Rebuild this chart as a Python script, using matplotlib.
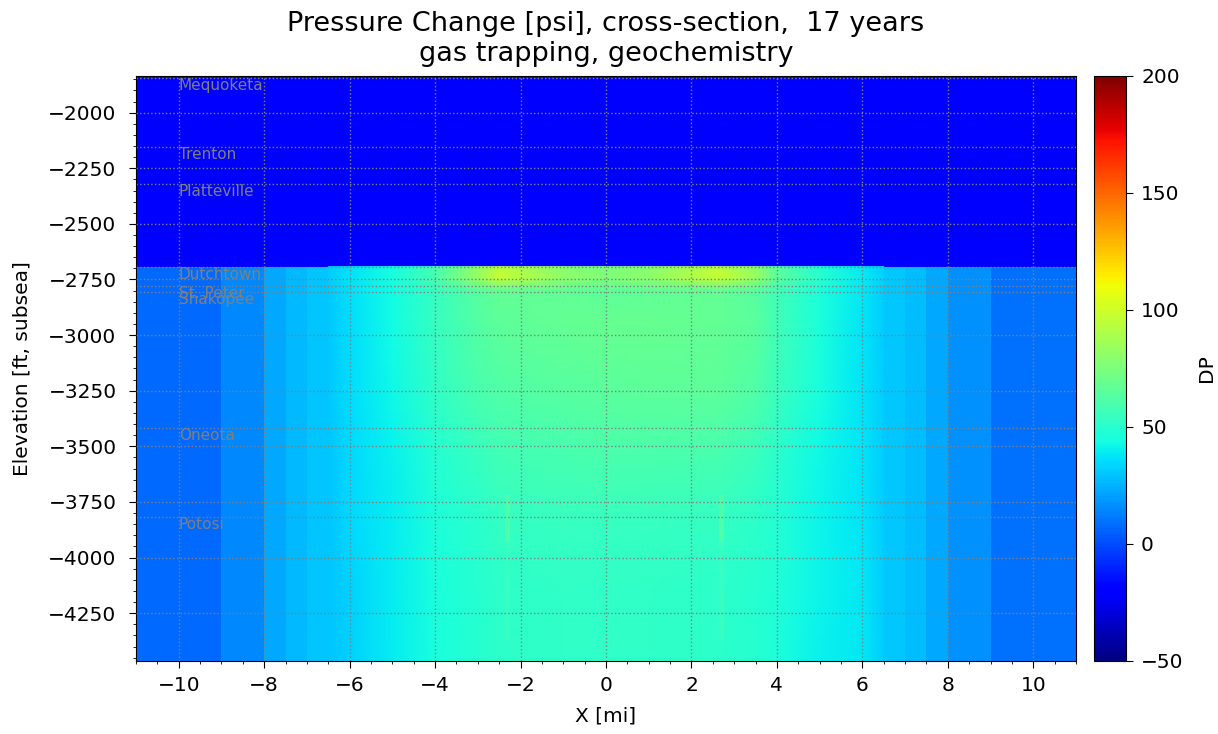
import numpy as np
import matplotlib
matplotlib.use("Agg")
import matplotlib.pyplot as plt

# colour scale
vmin, vmax = -50, 200

# caprock above the reservoir (one uniform value)
cap_top, cap_bottom = -1830, -2692
cap_value = -20

# coarse outer columns (edges in mi, values in psi)
left_edges = [-11, -9, -8, -7.5, -7, -6.5]
left_values = [7, 15, 23, 27, 30]
right_edges = [6.5, 7, 7.5, 8, 9, 11]
right_values = [31, 28, 23, 17, 9]

# refined central part, read at nodes
x_nodes = [-6.5, -6, -5, -4, -3, -2.5, -1, 0, 1, 2.6, 3.5, 4, 5, 6, 6.5]
y_nodes = [-2692, -2740, -2800, -2950, -3250, -3550, -3850, -4150, -4470]
dp_nodes = [
    [32, 36, 44, 58, 80, 94, 78, 74, 78, 94, 80, 64, 48, 38, 33],
    [32, 37, 45, 60, 84, 98, 80, 76, 80, 98, 84, 66, 50, 39, 33],
    [31, 36, 43, 54, 64, 68, 67, 66, 67, 68, 64, 57, 46, 38, 32],
    [31, 35, 43, 54, 63, 66, 68, 69, 69, 68, 65, 57, 46, 37, 32],
    [31, 35, 42, 52, 60, 62, 64, 65, 66, 66, 62, 55, 45, 37, 32],
    [30, 34, 40, 48, 54, 57, 59, 60, 60, 59, 55, 50, 42, 37, 32],
    [30, 34, 39, 46, 50, 53, 54, 54, 54, 53, 51, 48, 41, 37, 32],
    [30, 33, 39, 45, 49, 51, 52, 52, 52, 51, 49, 47, 41, 38, 32],
    [30, 33, 39, 45, 49, 51, 52, 52, 52, 51, 49, 46, 40, 38, 32],
]

# injection wells: narrow strips
well_edges = [[-2.36, -2.24], [2.64, 2.76]]
well_depths = [-3720, -3930, -4370]
well_values = [61, 54]

# formation tops
formations = ["Mequoketa", "Trenton", "Platteville", "Dutchtown", "St. Peter",
              "Shakopee", "Oneota", "Potosi"]
formation_tops = [-1845, -2156, -2319, -2692, -2777, -2804, -3419, -3820]

fig = plt.figure(figsize=(12.18, 7.34), dpi=100)
ax = fig.add_axes([0.1117, 0.0995, 0.7717, 0.797])
cax = fig.add_axes([0.898, 0.0995, 0.0263, 0.797])

kw = dict(cmap="jet", vmin=vmin, vmax=vmax)
mesh = ax.pcolormesh([-11, 11], [cap_bottom, cap_top], [[cap_value]], **kw)
ax.pcolormesh(left_edges, [y_nodes[-1], y_nodes[0]], [left_values], **kw)
ax.pcolormesh(right_edges, [y_nodes[-1], y_nodes[0]], [right_values], **kw)
ax.pcolormesh(x_nodes, y_nodes, np.array(dp_nodes), shading="gouraud", **kw)
for edges in well_edges:
    ax.pcolormesh(edges, well_depths, [[v] for v in well_values], **kw)

for name, top in zip(formations, formation_tops):
    ax.axhline(top, color="gray", linestyle=":", linewidth=1)
    ax.text(-10, top, name, color="gray", fontsize=11, va="top", ha="left")

ax.set_xlim(-11, 11)
ax.set_ylim(-4465, -1835)
ax.set_xticks(range(-10, 11, 2))
ax.set_yticks(range(-4250, -1999, 250))
ax.minorticks_on()
ax.grid(True, which="major", color="gray", linestyle=":", linewidth=1)
ax.set_axisbelow(False)
ax.tick_params(which="major", labelsize=14.5, pad=6, length=5)
ax.tick_params(axis="y", pad=9)
ax.set_xlabel("X [mi]", fontsize=14.5, labelpad=8)
ax.set_ylabel("Elevation [ft, subsea]", fontsize=14.5, labelpad=12)
ax.set_title("Pressure Change [psi], cross-section,  17 years\ngas trapping, geochemistry",
             fontsize=19.5, pad=11)

cb = fig.colorbar(mesh, cax=cax)
cb.set_ticks([-50, 0, 50, 100, 150, 200])
cb.ax.tick_params(labelsize=14.5, pad=6, length=5)
cb.set_label("DP", fontsize=14.5, labelpad=10)

fig.savefig("out.png", dpi=100)
